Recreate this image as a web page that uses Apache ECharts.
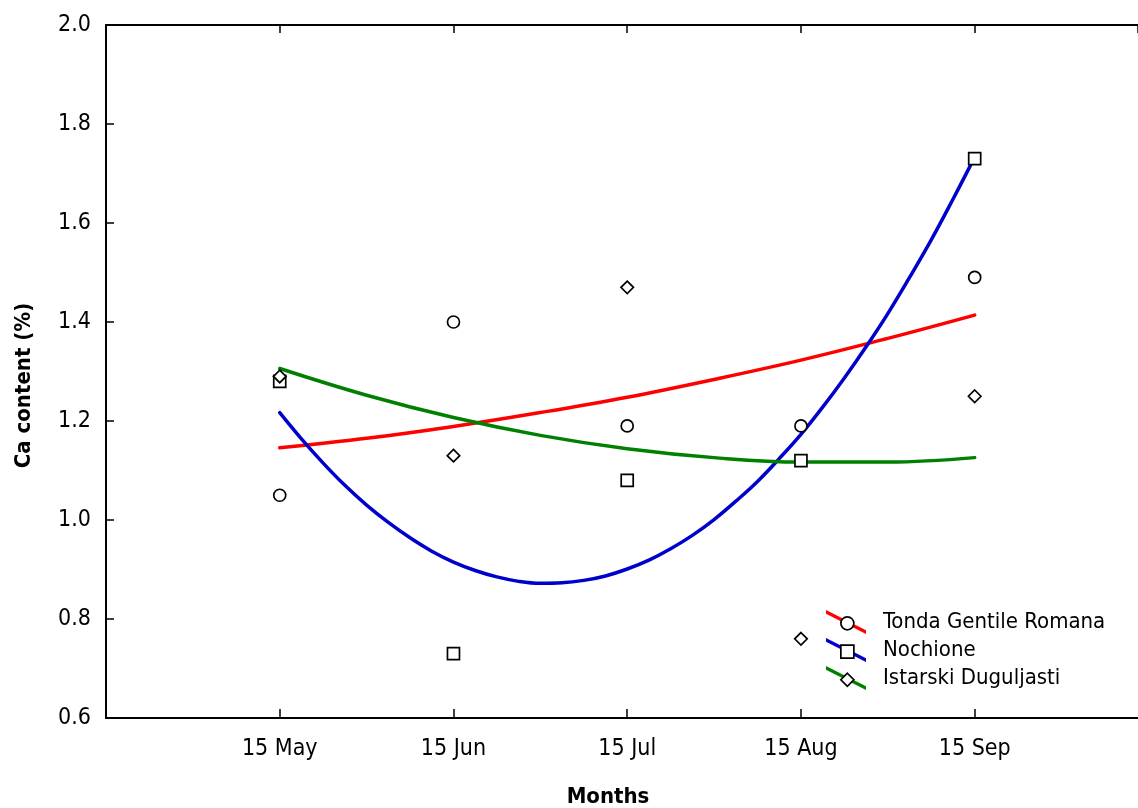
<!DOCTYPE html>
<html>
<head>
<meta charset="utf-8">
<script src="https://cdn.jsdelivr.net/npm/echarts@6/dist/echarts.min.js"></script>
<style>html,body{margin:0;padding:0;background:#fff}#c{width:1138px;height:808px}</style>
</head>
<body>
<div id="c"></div>
<script>
var monthLabels = ['15 May', '15 Jun', '15 Jul', '15 Aug', '15 Sep'];
var monthPos = [1, 2, 3, 4, 5];
var seriesNames = ['Tonda Gentile Romana', 'Nochione', 'Istarski Duguljasti'];

// measured points
var tondaPts = [1.05, 1.40, 1.19, 1.19, 1.49];
var nochionePts = [1.28, 0.73, 1.08, 1.12, 1.73];
var istarskiPts = [1.29, 1.13, 1.47, 0.76, 1.25];

// fitted curves
var curveXFine = [1, 1.125, 1.25, 1.375, 1.5, 1.625, 1.75, 1.875, 2, 2.125, 2.25, 2.375, 2.5, 2.625, 2.75, 2.875,
                  3, 3.125, 3.25, 3.375, 3.5, 3.625, 3.75, 3.875, 4, 4.125, 4.25, 4.375, 4.5, 4.625, 4.75, 4.875, 5];
var nochioneCurve = [1.217, 1.164, 1.115, 1.070, 1.030, 0.995, 0.964, 0.937, 0.915, 0.898, 0.885, 0.876, 0.872, 0.873, 0.878, 0.887,
                     0.901, 0.919, 0.942, 0.969, 1.001, 1.038, 1.078, 1.124, 1.173, 1.228, 1.287, 1.350, 1.417, 1.490, 1.566, 1.648, 1.733];
var curveXCoarse = [1, 1.5, 2, 2.5, 3, 3.5, 4, 4.5, 5];
var tondaCurve = [1.146, 1.165, 1.189, 1.217, 1.248, 1.284, 1.323, 1.367, 1.414];
var istarskiCurve = [1.306, 1.252, 1.207, 1.171, 1.144, 1.126, 1.117, 1.117, 1.126];

var colors = ['#ff0000', '#0000cc', '#008000'];
var symbols = ['circle', 'rect', 'diamond'];
var FONT = "'DejaVu Sans Condensed', 'DejaVu Sans', sans-serif";

function zip(xs, ys) { return xs.map(function (x, i) { return [x, ys[i]]; }); }

var curves = [zip(curveXCoarse, tondaCurve), zip(curveXFine, nochioneCurve), zip(curveXCoarse, istarskiCurve)];
var points = [zip(monthPos, tondaPts), zip(monthPos, nochionePts), zip(monthPos, istarskiPts)];

var series = [];
seriesNames.forEach(function (n, i) {
  series.push({
    name: n, type: 'line', data: curves[i], smooth: 0.4, showSymbol: false, symbol: 'none',
    color: colors[i], lineStyle: { color: colors[i], width: 3.5, cap: 'round' }, z: 2
  });
});
seriesNames.forEach(function (n, i) {
  series.push({
    name: n, type: 'scatter', data: points[i], symbol: symbols[i],
    symbolSize: i === 2 ? [12.5, 12.5] : 12,
    itemStyle: { color: '#ffffff', borderColor: '#000000', borderWidth: 1.7, opacity: 1 }, z: 3
  });
});

var diagPath = 'path://M0,0 L0,3.8 L40,24 L40,20.2 Z';

var option = {
  animation: false,
  backgroundColor: '#ffffff',
  textStyle: { fontFamily: FONT },
  grid: { left: 106, top: 25, right: 0, bottom: 90, containLabel: false, outerBoundsMode: 'none' },
  xAxis: [{
    type: 'value', min: 0, max: 5.94, interval: 1, position: 'bottom',
    name: 'Months', nameLocation: 'middle', nameGap: 68,
    nameTextStyle: { fontSize: 22, fontWeight: 'bold', color: '#000', fontFamily: FONT, padding: [0, 28, 0, 0] },
    axisLine: { show: true, lineStyle: { color: '#000', width: 2 } },
    axisTick: { show: true, inside: true, length: 9, lineStyle: { color: '#000', width: 1.5 } },
    axisLabel: {
      fontSize: 23, color: '#000', margin: 20, fontFamily: FONT, showMaxLabel: false,
      formatter: function (v) { var k = monthPos.indexOf(v); return k >= 0 ? monthLabels[k] : ''; }
    },
    splitLine: { show: false }
  }, {
    type: 'value', min: 0, max: 5.94, interval: 1, position: 'top',
    axisLine: { show: true, lineStyle: { color: '#000', width: 2 } },
    axisTick: { show: true, inside: true, length: 8, lineStyle: { color: '#000', width: 1.5 } },
    axisLabel: { show: false }, splitLine: { show: false }
  }],
  yAxis: {
    type: 'value', min: 0.6, max: 2.0, interval: 0.2,
    name: 'Ca content (%)', nameLocation: 'middle', nameGap: 71,
    nameTextStyle: { fontSize: 22, fontWeight: 'bold', color: '#000', fontFamily: FONT, padding: [0, 28, 0, 0] },
    axisLine: { show: true, lineStyle: { color: '#000', width: 2 } },
    axisTick: { show: true, inside: true, length: 8, lineStyle: { color: '#000', width: 1.5 } },
    axisLabel: { fontSize: 23, color: '#000', margin: 15, fontFamily: FONT, formatter: function (v) { return v.toFixed(1); } },
    splitLine: { show: false }
  },
  legend: [{
    orient: 'vertical', left: 826, top: 610, padding: 0, itemWidth: 40, itemHeight: 24, itemGap: 4,
    selectedMode: false,
    textStyle: { fontSize: 22, color: '#000', fontFamily: FONT, padding: [0, 0, 0, 12] },
    itemStyle: { borderWidth: 0 },
    data: seriesNames.map(function (n, i) { return { name: n, icon: diagPath, itemStyle: { color: colors[i], borderWidth: 0 } }; })
  }, {
    orient: 'vertical', left: 840, top: 616, padding: 0, itemWidth: 13, itemHeight: 13, itemGap: 13.5, z: 10,
    selectedMode: false,
    formatter: function () { return ''; },
    textStyle: { fontSize: 8, color: 'transparent' },
    itemStyle: { color: '#ffffff', borderColor: '#000000', borderWidth: 1.7 },
    data: seriesNames.map(function (n, i) { return { name: n, icon: symbols[i] }; })
  }],
  series: series
};

var chart = echarts.init(document.getElementById('c'), null, { renderer: 'canvas' });
chart.setOption(option);
</script>
</body>
</html>
